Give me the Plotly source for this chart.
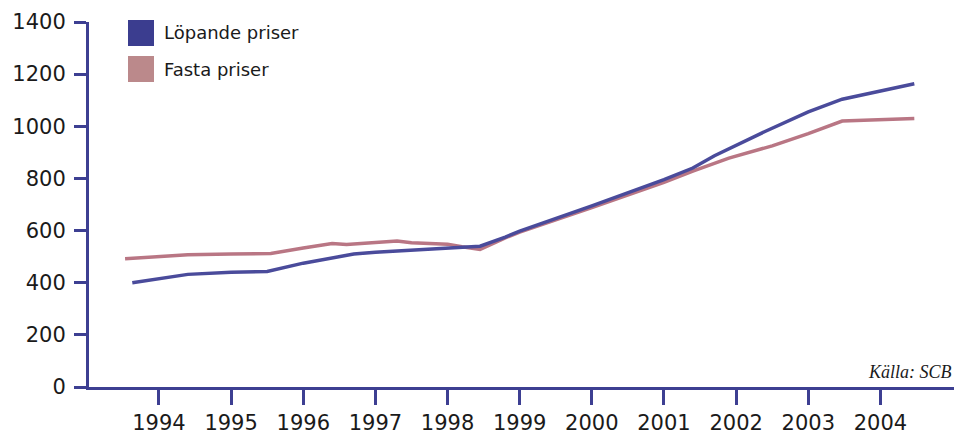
import plotly.graph_objects as go

# Löpande priser (current prices)
lop_x = [1993.63, 1994.4, 1995.0, 1995.5, 1996.0, 1996.4, 1996.7, 1997.0, 1997.5, 1998.0,
         1998.45, 1998.8, 1999.0, 2000.0, 2001.0, 2001.4, 2001.7, 2002.4, 2003.0, 2003.47, 2004.47]
lop_y = [400, 432, 440, 443, 475, 495, 510, 517, 524, 532,
         540, 575, 598, 695, 795, 840, 887, 980, 1055, 1104, 1163]

# Fasta priser (constant prices)
fas_x = [1993.53, 1994.4, 1995.0, 1995.55, 1996.0, 1996.4, 1996.6, 1997.0, 1997.3, 1997.5,
         1998.0, 1998.2, 1998.45, 1998.8, 1999.0, 2000.0, 2001.0, 2001.4, 2001.9, 2002.5,
         2003.0, 2003.47, 2004.47]
fas_y = [492, 507, 510, 512, 533, 550, 547, 555, 560, 553,
         548, 538, 528, 572, 594, 688, 785, 828, 878, 925,
         972, 1020, 1030]

years = [1994, 1995, 1996, 1997, 1998, 1999, 2000, 2001, 2002, 2003, 2004]
y_ticks = [0, 200, 400, 600, 800, 1000, 1200, 1400]

series_names = ["Löpande priser", "Fasta priser"]
line_colors = ["#4a4b9b", "#b97684"]
legend_colors = ["#3b3d8f", "#bb898b"]
axis_color = "#3d3f92"
font_fam = "DejaVu Sans"

fig = go.Figure()
fig.add_trace(go.Scatter(x=fas_x, y=fas_y, mode="lines", name=series_names[1],
                         line=dict(color=line_colors[1], width=3.5), showlegend=False))
fig.add_trace(go.Scatter(x=lop_x, y=lop_y, mode="lines", name=series_names[0],
                         line=dict(color=line_colors[0], width=3.5), showlegend=False))

# custom legend with large squares
shapes = []
annotations = []
for i, (nm, col) in enumerate(zip(series_names, legend_colors)):
    ytop = 20 + i * 36
    shapes.append(dict(type="rect", xref="paper", yref="paper",
                       x0=(128 - 89) / 865, x1=(154 - 89) / 865,
                       y0=(387 - ytop - 26) / 365, y1=(387 - ytop) / 365,
                       fillcolor=col, line=dict(width=0)))
    annotations.append(dict(xref="paper", yref="paper", x=(162 - 89) / 865,
                            y=(387 - ytop - 13) / 365, text=nm, showarrow=False,
                            xanchor="left", yanchor="middle",
                            font=dict(family=font_fam, size=18, color="#1a1a1a")))

annotations.append(dict(xref="paper", yref="paper", x=0.9995, y=(387 - 372) / 365,
                        text="<i>Källa: SCB</i>",
                        showarrow=False, xanchor="right", yanchor="middle",
                        font=dict(family="Liberation Serif", size=18, color="#1a1a1a")))

fig.update_layout(
    width=954, height=435,
    margin=dict(l=89, r=0, t=22, b=48),
    paper_bgcolor="white", plot_bgcolor="white",
    shapes=shapes, annotations=annotations,
    showlegend=False,
    font=dict(family=font_fam, size=21, color="#1a1a1a"),
)
fig.update_xaxes(range=[1993.03, 2005.02], tickmode="array", tickvals=years,
                 ticktext=[str(y) for y in years], showgrid=False, zeroline=False,
                 showline=True, linecolor=axis_color, linewidth=3,
                 ticks="outside", ticklen=15, tickwidth=3, tickcolor=axis_color,
                 tickfont=dict(size=21),
                 ticklabelstandoff=0, automargin=False, fixedrange=True)
fig.update_yaxes(range=[0, 1400], tickmode="array", tickvals=y_ticks,
                 showgrid=False, zeroline=False,
                 showline=True, linecolor=axis_color, linewidth=3,
                 ticks="outside", ticklen=12, tickwidth=3, tickcolor=axis_color,
                 ticklabelstandoff=4, automargin=False, fixedrange=True)

fig.write_html("out.html", config={"displayModeBar": False},
               post_script="document.body.style.margin='0';document.body.style.overflow='hidden';")
